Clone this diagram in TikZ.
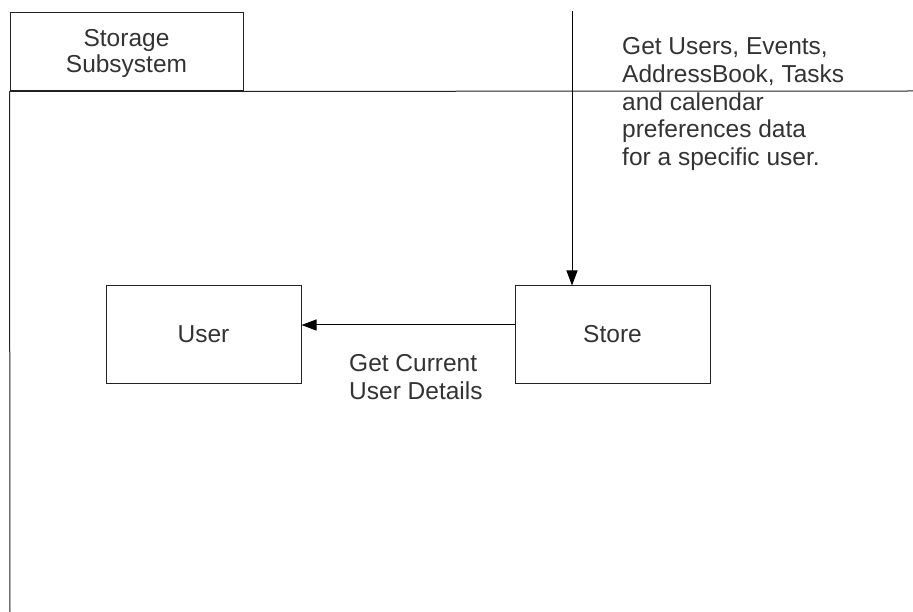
\documentclass[tikz,border=0pt]{standalone}
\usepackage{fontspec}
\setmainfont{Liberation Sans}
\usetikzlibrary{arrows.meta}
\definecolor{ink}{HTML}{333333}
\definecolor{edge}{HTML}{222222}
\tikzset{
  lbl/.style={font=\fontsize{24.5}{27.7}\selectfont, text=ink, inner sep=0pt},
  box/.style={draw=edge, line width=1pt, minimum width=195pt, minimum height=97pt,
    inner sep=0pt, font=\fontsize{24.5}{27.7}\selectfont, text=ink},
  frame/.style={draw=edge, line width=1pt},
  arr/.style={draw=black, line width=1pt, -{Triangle[length=15pt,width=11pt]}}
}
\begin{document}
\begin{tikzpicture}[x=1pt, y=-1pt]
  \useasboundingbox (0,0) rectangle (913,612);
  % subsystem header and lane frame
  \node[frame, minimum width=233pt, minimum height=78pt, inner sep=0pt]
        (sub) at (126.5,52) {};
  \node[lbl, font=\fontsize{24.5}{26}\selectfont, anchor=north, align=center]
        (subLbl) at (126.5,29.5) {Storage\\Subsystem};
  \coordinate (laneEnd) at (10,612);
  \coordinate (ruleEnd) at (913,91);
  \draw[frame] (sub.south west) -- (laneEnd);
  \draw[frame] (sub.south west) -- (ruleEnd);
  % components
  \node[box] (user) at (203.5,334.5) {User};
  \node[box] (store) at (612.5,334.5) {Store};
  % incoming request
  \coordinate (reqTop) at (572,11);
  \draw[arr] (reqTop) -- (reqTop |- store.north);
  \node[lbl, anchor=north west, align=left] (reqLbl) at (622,37.5)
    {Get Users, Events,\\AddressBook, Tasks\\and calendar\\preferences data\\for a specific user.};
  % store to user
  \draw[arr] ([yshift=9.5pt]store.west) -- ([yshift=9.5pt]user.east);
  \node[lbl, anchor=north west, align=left] (curLbl) at (349,354)
    {Get Current\\User Details};
\end{tikzpicture}
\end{document}
